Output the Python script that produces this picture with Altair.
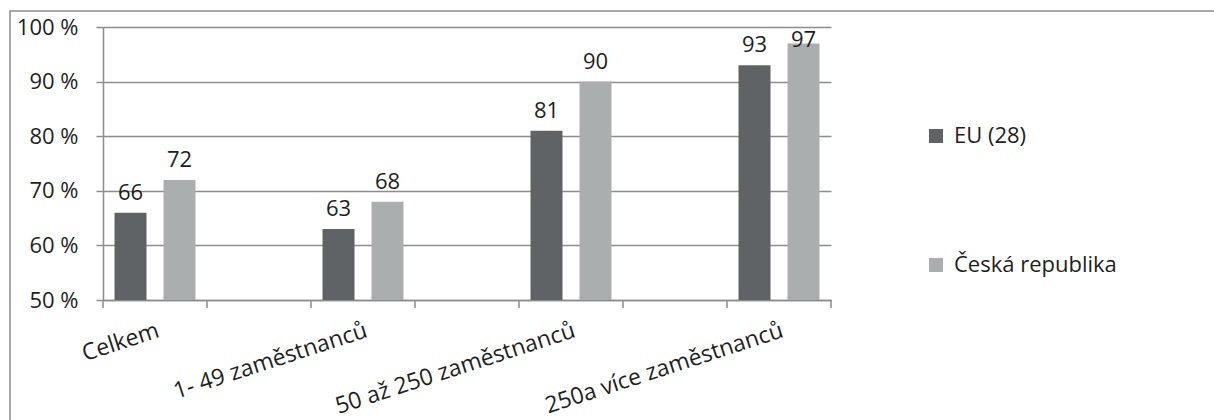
import altair as alt
import pandas as pd

# Share of enterprises by size class, EU (28) vs. Czech Republic
categories = ["Celkem", "1- 49 zaměstnanců", "50 až 250 zaměstnanců", "250a více zaměstnanců"]
series_names = ["EU (28)", "Česká republika"]
eu_values = [66, 63, 81, 93]
cz_values = [72, 68, 90, 97]
y_ticks = [50, 60, 70, 80, 90, 100]
# category-axis tick boundaries (seven slots, every other one holds a group)
tick_slots = [0, 1, 2, 3, 4, 5, 6, 7]

rows = []
for cat, eu, cz in zip(categories, eu_values, cz_values):
    rows.append({"kategorie": cat, "serie": series_names[0], "hodnota": eu})
    rows.append({"kategorie": cat, "serie": series_names[1], "hodnota": cz})
df = pd.DataFrame(rows)

FONT = "Open Sans"
FS = 22
TEXT = "#1e1e1e"
LINE = "#8c8c8c"
DARK = "#5f6365"
LIGHT = "#aaaeaf"
W, H = 728, 273

x_enc = alt.X(
    "kategorie:N",
    sort=categories,
    title=None,
    scale=alt.Scale(paddingInner=0.5, paddingOuter=0),
    axis=alt.Axis(
        labelAngle=342,
        labelAlign="right",
        labelBaseline="top",
        labelPadding=19,
        ticks=False,
        domainColor=LINE,
        domainWidth=1.5,
        labelFont=FONT,
        labelFontSize=23,
        labelColor=TEXT,
        labelLimit=400,
    ),
)
xoff_enc = alt.XOffset(
    "serie:N", sort=series_names,
    scale=alt.Scale(paddingInner=0.347, paddingOuter=0.235),
)
y_scale = alt.Scale(domain=[50, 100], nice=False, zero=False)

base = alt.Chart(df)

bars = base.mark_bar().encode(
    x=x_enc,
    xOffset=xoff_enc,
    y=alt.Y(
        "hodnota:Q",
        scale=y_scale,
        title=None,
        axis=alt.Axis(
            values=y_ticks,
            labelExpr="datum.value + ' %'",
            grid=True,
            gridColor=LINE,
            gridWidth=1.5,
            domainColor=LINE,
            domainWidth=1.5,
            tickColor=LINE,
            tickWidth=1.5,
            tickSize=7,
            labelPadding=18,
            labelFont=FONT,
            labelFontSize=FS,
            labelColor=TEXT,
        ),
    ),
    y2=alt.datum(50),
    color=alt.Color(
        "serie:N",
        sort=series_names,
        scale=alt.Scale(domain=series_names, range=[DARK, LIGHT]),
        legend=alt.Legend(
            title=None,
            orient="none",
            legendX=822,
            legendY=98,
            symbolType="square",
            symbolSize=196,
            symbolStrokeWidth=0,
            labelFont=FONT,
            labelFontSize=FS,
            labelColor=TEXT,
            labelOffset=7,
            labelLimit=400,
            rowPadding=107,
            padding=0,
        ),
    ),
)

# value labels sit above each bar, kept inside the plot near the top edge
labels = base.transform_calculate(
    pozice="min(datum.hodnota, 94)"
).mark_text(
    baseline="alphabetic", dy=-13, font=FONT, fontSize=FS, color=TEXT
).encode(
    x=x_enc,
    xOffset=xoff_enc,
    y=alt.Y("pozice:Q", scale=y_scale),
    text=alt.Text("hodnota:Q"),
)

# bars and their value labels share one category scale
groups = alt.layer(bars, labels)

ticks = alt.Chart(pd.DataFrame({"slot": tick_slots})).mark_rule(
    color=LINE, strokeWidth=1.5
).encode(
    x=alt.X("slot:Q", scale=alt.Scale(domain=[0, 7], nice=False, zero=False), axis=None),
    y=alt.value(H),
    y2=alt.value(H + 8),
)

frame = alt.Chart(pd.DataFrame({"k": [0]})).mark_rect(
    filled=False, stroke=LINE, strokeWidth=1.5
).encode(
    x=alt.value(-93),
    x2=alt.value(1200),
    y=alt.value(-16),
    y2=alt.value(500),
)

chart = (
    alt.layer(frame, groups, ticks)
    .resolve_scale(x="independent")
    .properties(
        width=W,
        height=H,
        autosize=alt.AutoSizeParams(type="none"),
        padding={"left": 103, "top": 27, "right": 383, "bottom": 120},
        background="white",
    )
    .configure_view(stroke="transparent")
)

chart.save("out.html", embed_options={"renderer": "svg", "actions": False})
